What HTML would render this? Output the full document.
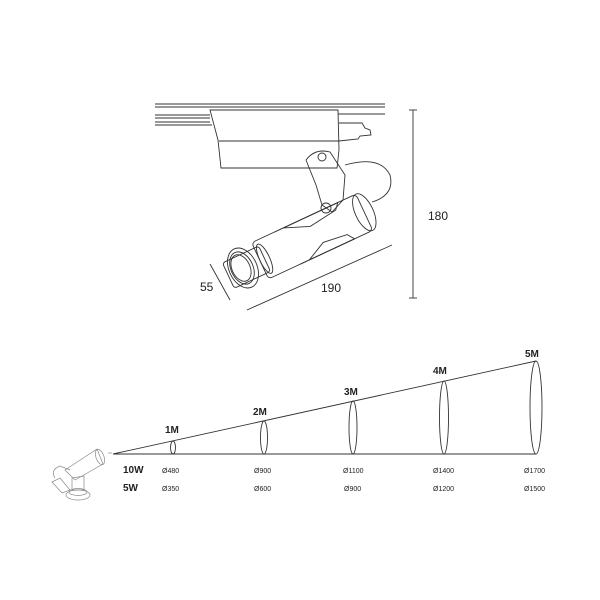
<!DOCTYPE html>
<html><head><meta charset="utf-8"><style>html,body{margin:0;padding:0;background:#fff}svg{display:block}</style></head>
<body>
<svg width="600" height="600" viewBox="0 0 600 600" xmlns="http://www.w3.org/2000/svg" font-family="Liberation Sans, sans-serif">
<g fill="none" stroke="#333" stroke-width="0.9">
<!-- rail -->
<line x1="155" y1="104" x2="385" y2="104"/>
<line x1="155" y1="107" x2="385" y2="107"/>
<line x1="155" y1="115" x2="210" y2="115"/>
<line x1="155" y1="118" x2="210" y2="118"/>
<line x1="155" y1="122" x2="210" y2="122"/>
<line x1="155" y1="125" x2="212" y2="125"/>
<line x1="338" y1="114" x2="385" y2="114"/>
<!-- adapter -->
<polygon points="210,110 338,110 339,150 337,168 221,168 218,140"/>
<line x1="219" y1="141" x2="339" y2="141"/>
<path d="M339,123 L362,123 L365,128 L370,130 L371,135 L360,136 L358,139 L339,141"/>
<!-- cable -->
<path d="M345,165 Q380,155 390,175 Q395,195 372,202"/>
<!-- yoke -->
<path d="M306,160 Q315,148 330,152 L345,175 L343,200 L332,212 L322,205 L316,185 Z"/>
<circle cx="326" cy="208" r="5"/>
<circle cx="322" cy="157" r="4"/>
<!-- body -->
<g transform="rotate(-25 300 240)">
<rect x="255" y="222" width="115" height="40" rx="4"/>
<ellipse cx="370" cy="242" rx="9" ry="20"/>
<line x1="280" y1="222" x2="350" y2="222"/>
<line x1="290" y1="262" x2="350" y2="262"/>
<polygon points="290,222 315,232 345,228 350,222"/>
<polygon points="300,262 320,252 345,255 350,262"/>
<rect x="220" y="228" width="40" height="28" rx="3"/>
<ellipse cx="260" cy="242" rx="5" ry="16"/>
</g>
<ellipse cx="243" cy="268" rx="14" ry="21" transform="rotate(-25 243 268)"/>
<ellipse cx="242" cy="268" rx="11" ry="17" transform="rotate(-25 242 268)"/>
<ellipse cx="241" cy="268" rx="9" ry="14" transform="rotate(-25 241 268)"/>
<!-- dims -->
<line x1="413" y1="110" x2="413" y2="298"/>
<line x1="409" y1="110" x2="417" y2="110"/>
<line x1="409" y1="298" x2="417" y2="298"/>
<line x1="210" y1="264" x2="230" y2="300"/>
<line x1="247" y1="310" x2="392" y2="245"/>
<!-- cone -->
<line x1="113" y1="454" x2="536" y2="454"/>
<line x1="113" y1="454" x2="536" y2="361"/>
<ellipse cx="173" cy="447.5" rx="2.5" ry="6.5"/>
<ellipse cx="264" cy="437.5" rx="3.5" ry="16.5"/>
<ellipse cx="353" cy="427.5" rx="4" ry="26.5"/>
<ellipse cx="444" cy="417.5" rx="4.5" ry="36.5"/>
<ellipse cx="536" cy="407.5" rx="6" ry="46.5"/>
</g>
<!-- small lamp -->
<g fill="none" stroke="#888" stroke-width="0.7">
<ellipse cx="100" cy="457" rx="4" ry="8" transform="rotate(-20 100 457)"/>
<path d="M65,470 L97,449 L103,464 L75,480 Z"/>
<path d="M55,478 Q50,470 60,466 L70,470"/>
<path d="M52,482 L60,478 L70,490 L62,493 Z"/>
<ellipse cx="78" cy="495" rx="12" ry="5"/>
<ellipse cx="78" cy="492" rx="9" ry="3.5"/>
<path d="M72,478 L84,476 L84,490 L72,490 Z"/>
<line x1="108" y1="453" x2="112" y2="453"/>
</g>
<g fill="#222">
<text x="428" y="220" font-size="12">180</text>
<text x="200" y="291" font-size="12">55</text>
<text x="321" y="292" font-size="12">190</text>
<g font-size="10" font-weight="bold">
<text x="165" y="433">1M</text>
<text x="253" y="415">2M</text>
<text x="344" y="395">3M</text>
<text x="433" y="374">4M</text>
<text x="525" y="357">5M</text>
<text x="123" y="473">10W</text>
<text x="123" y="491">5W</text>
</g>
<g font-size="7">
<text x="162" y="473">Ø480</text><text x="162" y="491">Ø350</text>
<text x="254" y="473">Ø900</text><text x="254" y="491">Ø600</text>
<text x="343" y="473">Ø1100</text><text x="344" y="491">Ø900</text>
<text x="433" y="473">Ø1400</text><text x="433" y="491">Ø1200</text>
<text x="524" y="473">Ø1700</text><text x="524" y="491">Ø1500</text>
</g>
</g>
</svg>
</body></html>
